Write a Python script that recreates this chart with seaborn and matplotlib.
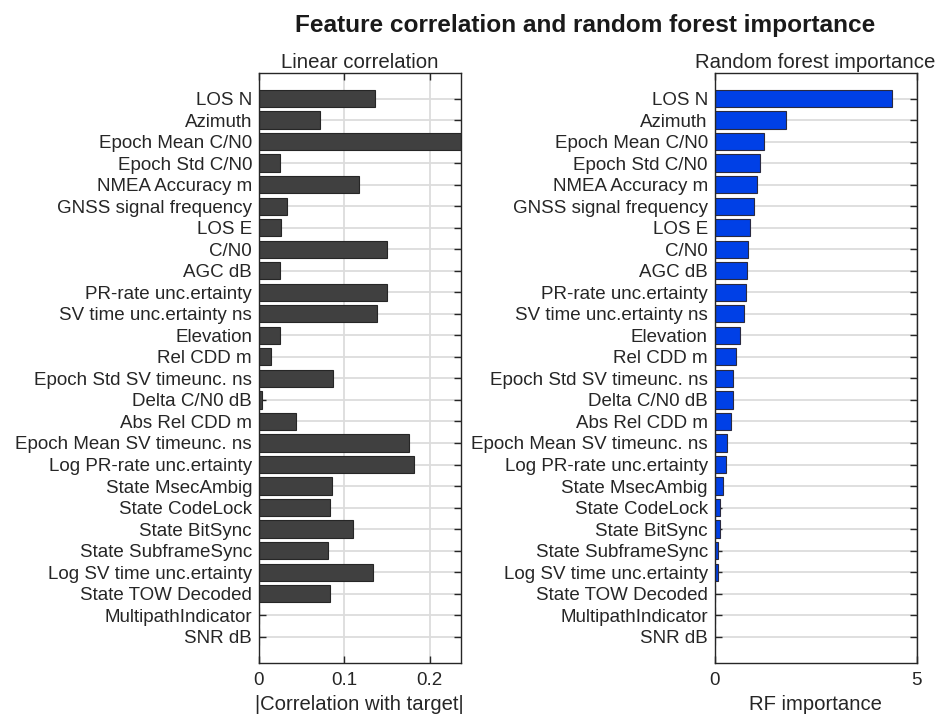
import matplotlib
matplotlib.use("Agg")
import matplotlib.pyplot as plt
import seaborn as sns
import pandas as pd

features = [
    "LOS N", "Azimuth", "Epoch Mean C/N0", "Epoch Std C/N0", "NMEA Accuracy m",
    "GNSS signal frequency", "LOS E", "C/N0", "AGC dB", "PR-rate unc.ertainty",
    "SV time unc.ertainty ns", "Elevation", "Rel CDD m", "Epoch Std SV timeunc. ns",
    "Delta C/N0 dB", "Abs Rel CDD m", "Epoch Mean SV timeunc. ns",
    "Log PR-rate unc.ertainty", "State MsecAmbig", "State CodeLock", "State BitSync",
    "State SubframeSync", "Log SV time unc.ertainty", "State TOW Decoded",
    "MultipathIndicator", "SNR dB",
]

abs_corr = [
    0.1356, 0.0711, 0.2365, 0.0242, 0.1172, 0.0332, 0.0254, 0.1500, 0.0250,
    0.1500, 0.1383, 0.0250, 0.0141, 0.0864, 0.0039, 0.0438, 0.1762, 0.1813,
    0.0852, 0.0832, 0.1098, 0.0805, 0.1340, 0.0832, 0.0, 0.0,
]

rf_importance = [
    4.39, 1.765, 1.21, 1.13, 1.047, 0.973, 0.866, 0.824, 0.79, 0.775, 0.717,
    0.634, 0.527, 0.46, 0.445, 0.41, 0.297, 0.287, 0.198, 0.13, 0.124, 0.09,
    0.08, 0.0, 0.0, 0.0,
]

corr_ticks = [0, 0.1, 0.2]
rf_ticks = [0, 5]

df = pd.DataFrame({"feature": features, "corr": abs_corr, "rf": rf_importance})

sns.set_theme(style="white")
plt.rcParams["font.family"] = ["Liberation Sans", "DejaVu Sans"]
plt.rcParams["axes.unicode_minus"] = False

text_col = "#262626"
fig = plt.figure(figsize=(9.42, 7.16), dpi=100)
ax1 = fig.add_axes([0.2749, 0.074, 0.2141, 0.8245])
ax2 = fig.add_axes([0.7587, 0.074, 0.2144, 0.8245])

sns.barplot(data=df, x="corr", y="feature", orient="h", ax=ax1,
            color="#404040", saturation=1, width=0.8,
            edgecolor="#262626", linewidth=0.8, zorder=3)
sns.barplot(data=df, x="rf", y="feature", orient="h", ax=ax2,
            color="#0040E6", saturation=1, width=0.8,
            edgecolor="#2a2a40", linewidth=0.8, zorder=3)

n = len(features)
for ax, xmax, ticks, title, xlabel in [
    (ax1, 0.2365, corr_ticks, "Linear correlation", "|Correlation with target|"),
    (ax2, 5.0, rf_ticks, "Random forest importance", "RF importance"),
]:
    ax.set_xlim(0, xmax)
    ax.set_ylim(n - 1 + 1.22, -1.2)
    ax.set_xticks(ticks)
    ax.set_xticklabels([f"{t:g}" for t in ticks])
    ax.grid(True, axis="both", color="#dcdcdc", linewidth=1.3, zorder=0)
    ax.set_axisbelow(True)
    ax.tick_params(axis="both", direction="in", length=5, width=1,
                   color=text_col, labelsize=13.5, labelcolor=text_col,
                   top=True, right=True, bottom=True, left=True)
    ax.tick_params(axis="y", pad=5)
    ax.tick_params(axis="x", pad=6.5)
    for s in ax.spines.values():
        s.set_visible(True)
        s.set_color(text_col)
        s.set_linewidth(1.0)
        s.set_zorder(4)
    ax.set_ylabel("")
    ax.set_xlabel(xlabel, fontsize=14.6, color=text_col, labelpad=4)
    ax.set_title(title, fontsize=14.7, color=text_col, pad=3.6)

fig.text(295 / 942, 1 - 31.7 / 716, "Feature correlation and random forest importance",
         ha="left", va="baseline", fontsize=17.6, fontweight="bold", color="#1a1a1a")

fig.savefig("out.png", dpi=100)
